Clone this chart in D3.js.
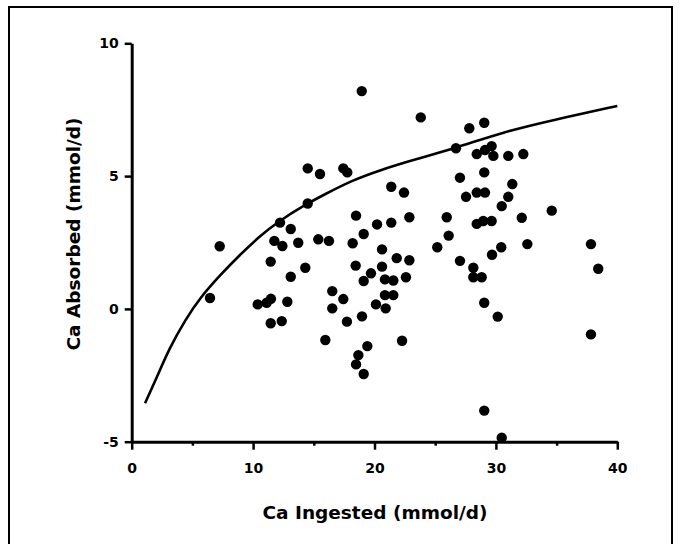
<!DOCTYPE html>
<html>
<head>
<meta charset="utf-8">
<script src="https://cdn.jsdelivr.net/npm/d3@7"></script>
<style>
  html, body { margin: 0; padding: 0; background: #fff; }
  svg { display: block; }
  .tick text { font-family: "DejaVu Sans", sans-serif; font-weight: bold; font-size: 14px; fill: #000; }
  .axis-title { font-family: "DejaVu Sans", sans-serif; font-weight: bold; font-size: 18.5px; fill: #000; }
</style>
</head>
<body>
<svg id="chart" width="680" height="544"></svg>
<script>
// Calcium intake vs. absorption, one point per balance study (mmol/d)
const ingested = [
  6.45, 7.25, 10.38, 11.12, 11.47, 11.45, 12.36, 12.82, 11.45, 11.75,
  12.41, 12.22, 13.10, 13.72, 13.10, 14.30, 14.50, 14.50, 15.51, 15.37,
  16.25, 16.52, 16.52, 15.95, 17.43, 17.73, 17.43, 17.76, 18.20, 18.48,
  18.45, 19.11, 19.71, 19.11, 18.97, 18.67, 18.48, 19.11, 19.41, 18.95,
  20.21, 20.62, 20.62, 20.12, 20.92, 20.86, 21.55, 20.86, 21.55, 21.38,
  21.38, 22.43, 21.83, 22.59, 22.87, 22.87, 22.27, 23.81, 25.17, 25.95,
  26.11, 26.71, 27.04, 27.04, 27.81, 27.54, 28.14, 28.14, 28.83, 28.42,
  28.42, 28.42, 29.04, 29.04, 29.10, 28.96, 29.65, 29.10, 29.65, 29.79,
  29.04, 29.04, 30.48, 30.44, 29.68, 30.15, 31.02, 31.02, 31.35, 30.48,
  32.26, 32.13, 32.59, 34.60, 37.83, 38.43, 37.83
];
const absorbed = [
  0.41, 2.36, 0.17, 0.23, 0.38, -0.54, -0.46, 0.27, 1.78, 2.56,
  2.37, 3.25, 3.01, 2.49, 1.21, 1.55, 3.97, 5.29, 5.08, 2.62,
  2.56, 0.67, 0.02, -1.17, 0.37, -0.48, 5.29, 5.14, 2.47, 3.51,
  1.63, 2.82, 1.34, 1.05, -0.28, -1.74, -2.09, -2.45, -1.40, 8.20,
  3.18, 2.24, 1.59, 0.17, 0.02, 0.52, 0.52, 1.11, 1.07, 3.25,
  4.60, 4.38, 1.91, 1.19, 3.45, 1.83, -1.20, 7.21, 2.32, 3.45,
  2.76, 6.05, 4.94, 1.81, 6.80, 4.22, 1.55, 1.19, 1.19, 5.83,
  4.38, 3.20, 7.01, 5.14, 4.38, 3.31, 3.31, 5.98, 6.13, 5.76,
  0.23, -3.83, 3.87, 2.32, 2.04, -0.29, 5.76, 4.22, 4.70, -4.85,
  5.83, 3.43, 2.44, 3.70, 2.44, 1.51, -0.96
];

// Fitted absorption curve, sampled along intake
const fitX = [1.1, 2.1, 3.1, 4.5, 5.6, 7.3, 8.9, 10.5, 12.0, 14.4, 15.8, 18.2, 20.5, 22.9, 26.7, 30.6, 34.7, 40.0];
const fitY = [-3.55, -2.55, -1.48, -0.35, 0.40, 1.28, 2.03, 2.72, 3.27, 3.95, 4.29, 4.85, 5.23, 5.57, 6.06, 6.66, 7.11, 7.64];

const xTicks = [0, 10, 20, 30, 40];
const xMinorTicks = [5, 15, 25, 35];
const yTicks = [-5, 0, 5, 10];

const xTitle = "Ca Ingested (mmol/d)";
const yTitle = "Ca Absorbed (mmol/d)";

const svg = d3.select("#chart");

// outer frame
svg.append("path")
  .attr("d", "M9,546V7H672V546")
  .attr("fill", "none")
  .attr("stroke", "#000")
  .attr("stroke-width", 2);

const x = d3.scaleLinear().domain([0, 40]).range([131.7, 617.3]);
const y = d3.scaleLinear().domain([-5, 10]).range([441.7, 43.3]);

const plain = d => String(d);

// x axis: labelled major ticks and short minor ticks
svg.append("g")
  .attr("transform", `translate(0,${y(-5)})`)
  .call(d3.axisBottom(x).tickValues(xTicks).tickSize(8).tickSizeOuter(0).tickPadding(13).tickFormat(plain));
svg.append("g")
  .attr("transform", `translate(0,${y(-5)})`)
  .call(d3.axisBottom(x).tickValues(xMinorTicks).tickSize(4).tickFormat(""))
  .call(g => g.select(".domain").remove());

svg.append("g")
  .attr("transform", `translate(${x(0)},0)`)
  .call(d3.axisLeft(y).tickValues(yTicks).tickSize(7).tickSizeOuter(0).tickPadding(6).tickFormat(plain));

svg.selectAll(".domain").attr("stroke", "#000").attr("stroke-width", 3);
svg.selectAll(".tick line").attr("stroke", "#000").attr("stroke-width", 2.5);

// points
const pts = ingested.map((v, i) => [v, absorbed[i]]);
svg.append("g")
  .selectAll("circle")
  .data(pts)
  .join("circle")
  .attr("cx", d => x(d[0]))
  .attr("cy", d => y(d[1]))
  .attr("r", 5.2)
  .attr("fill", "#000");

// fitted curve
const fit = fitX.map((v, i) => [v, fitY[i]]);
svg.append("path")
  .datum(fit)
  .attr("fill", "none")
  .attr("stroke", "#000")
  .attr("stroke-width", 2.6)
  .attr("d", d3.line().x(d => x(d[0])).y(d => y(d[1])).curve(d3.curveBasis));

// axis titles
svg.append("text")
  .attr("class", "axis-title")
  .attr("x", 375)
  .attr("y", 519)
  .attr("text-anchor", "middle")
  .text(xTitle);

svg.append("text")
  .attr("class", "axis-title")
  .attr("transform", "translate(80,234) rotate(-90)")
  .attr("text-anchor", "middle")
  .text(yTitle);
</script>
</body>
</html>
